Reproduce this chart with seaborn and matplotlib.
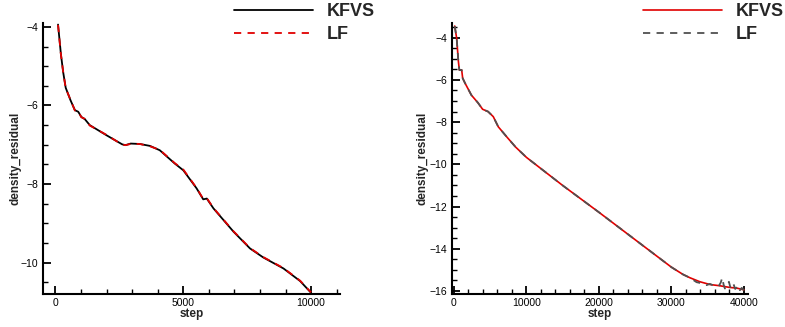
import numpy as np
import pandas as pd
import seaborn as sns
import matplotlib.pyplot as plt
from matplotlib.ticker import MultipleLocator

# left case (10000 steps)
steps_l = [100, 210, 300, 400, 590, 760, 890, 1010, 1150, 1340, 2000, 2610, 2740, 2940,
           3300, 3700, 4080, 4670, 5000, 5520, 5780, 5920, 6180, 6960, 7610, 8130, 8920, 9570, 10000]
kfvs_l = [-3.94, -4.68, -5.15, -5.55, -5.87, -6.12, -6.16, -6.29, -6.35, -6.50, -6.76, -6.99, -7.01, -6.97,
          -6.98, -7.03, -7.14, -7.48, -7.65, -8.11, -8.39, -8.37, -8.62, -9.21, -9.64, -9.87, -10.15, -10.47, -10.77]
lf_l = [-3.95, -4.69, -5.14, -5.56, -5.86, -6.13, -6.15, -6.30, -6.34, -6.51, -6.75, -7.00, -7.01, -6.98,
        -6.98, -7.04, -7.13, -7.47, -7.63, -8.10, -8.38, -8.36, -8.61, -9.20, -9.63, -9.86, -10.14, -10.46, -10.76]

# right case (40000 steps)
steps_r = [100, 370, 600, 740, 1060, 1200, 1520, 2400, 3300, 3950, 4700, 5420, 6110, 7260, 8500,
           10000, 15000, 20000, 25000, 30000, 31630, 32550, 33930, 35310, 36690, 38070, 39000, 40000]
kfvs_r = [-3.45, -4.03, -5.10, -5.53, -5.53, -5.92, -6.15, -6.72, -7.08, -7.39, -7.50, -7.74, -8.22, -8.69, -9.18,
          -9.67, -11.00, -12.27, -13.57, -14.87, -15.22, -15.37, -15.56, -15.69, -15.75, -15.83, -15.86, -15.94]
steps_lf_r = [100, 370, 600, 740, 1060, 1200, 1520, 2400, 3300, 3950, 4700, 5420, 6110, 7260, 8500,
              10000, 15000, 20000, 25000, 30000, 31630, 32550, 33470, 34000, 34850, 35300, 35800, 36500,
              36800, 37010, 37200, 37380, 37700, 37930, 38150, 38530, 38800, 39220, 39450, 39700, 40000]
lf_r = [-3.45, -4.03, -5.10, -5.53, -5.53, -5.92, -6.15, -6.72, -7.08, -7.39, -7.50, -7.74, -8.22, -8.69, -9.18,
        -9.67, -11.00, -12.27, -13.57, -14.87, -15.22, -15.37, -15.58, -15.62, -15.72, -15.66, -15.74, -15.78,
        -15.60, -15.37, -15.70, -15.88, -15.72, -15.56, -15.85, -15.64, -15.90, -15.75, -15.96, -15.85, -15.97]

sns.set_theme(style="ticks")
plt.rcParams['font.family'] = ['Liberation Sans', 'DejaVu Sans']

fig = plt.figure(figsize=(7.85, 3.27), dpi=100)
ax1 = fig.add_axes([0.0544, 0.1009, 0.3787, 0.8288])
ax2 = fig.add_axes([0.5754, 0.1009, 0.3778, 0.8297])

red = "#e00000"
grey = "#505050"

sns.lineplot(x=steps_l, y=kfvs_l, ax=ax1, color="black", lw=1.3, label="KFVS")
sns.lineplot(x=steps_l, y=lf_l, ax=ax1, color=red, lw=1.3, linestyle=(0, (4, 3.5)), label="LF")

sns.lineplot(x=steps_r, y=kfvs_r, ax=ax2, color=red, lw=1.2, label="KFVS")
sns.lineplot(x=steps_lf_r, y=lf_r, ax=ax2, color=grey, lw=1.3, linestyle=(0, (4, 3.5)), label="LF")

ax1.set_xlim(-500, 11130)
ax1.set_ylim(-10.8, -3.9)
ax1.xaxis.set_major_locator(MultipleLocator(5000))
ax1.xaxis.set_minor_locator(MultipleLocator(1000))
ax1.yaxis.set_major_locator(MultipleLocator(2))
ax1.yaxis.set_minor_locator(MultipleLocator(0.5))

ax2.set_xlim(-317, 40600)
ax2.set_ylim(-16.14, -3.29)
ax2.xaxis.set_major_locator(MultipleLocator(10000))
ax2.xaxis.set_minor_locator(MultipleLocator(2000))
ax2.yaxis.set_major_locator(MultipleLocator(2))
ax2.yaxis.set_minor_locator(MultipleLocator(0.5))

for ax, lx, leg_x in [(ax1, -0.073, 234), (ax2, -0.077, 643)]:
    sns.despine(ax=ax)
    ax.spines['left'].set_linewidth(1.5)
    ax.spines['bottom'].set_linewidth(1.5)
    ax.spines['left'].set_color("black")
    ax.spines['bottom'].set_color("black")
    ax.tick_params(which='major', direction='in', length=6, width=1.3, labelsize=7.5, pad=3, colors="black")
    ax.tick_params(which='minor', direction='in', length=3.5, width=1.0, colors="black")
    ax.set_xlabel("step", fontsize=8.5, fontweight='bold', labelpad=0)
    ax.set_ylabel("density_residual", fontsize=8.5, fontweight='bold')
    ax.yaxis.set_label_coords(lx, 0.5)
    ax.legend(loc='upper left', bbox_to_anchor=(leg_x / 785, 1 - 3 / 327),
              bbox_transform=fig.transFigure, frameon=False, borderpad=0, borderaxespad=0,
              handlelength=4.4, handletextpad=0.75, labelspacing=0.35,
              prop={'size': 13, 'weight': 'bold'})

fig.savefig("out.png", dpi=100)
